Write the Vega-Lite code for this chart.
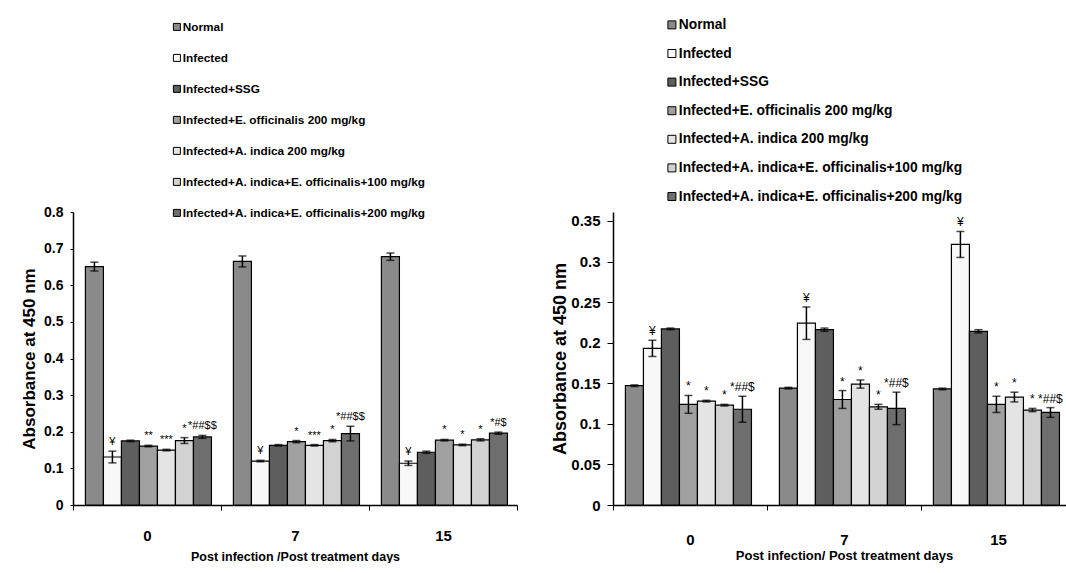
{
  "$schema": "https://vega.github.io/schema/vega-lite/v6.json",
  "padding": {"left": 20, "top": 18, "right": 0, "bottom": 0},
  "background": "white",
  "spacing": 33,
  "resolve": {"scale": {"color": "independent"}, "legend": {"color": "independent"}},
  "config": {
    "font": "Liberation Sans",
    "view": {"stroke": null},
    "axis": {
      "grid": false,
      "labelOverlap": false,
      "domainColor": "black",
      "tickColor": "black",
      "labelColor": "black",
      "titleColor": "black",
      "labelFont": "Liberation Sans",
      "titleFont": "Liberation Sans",
      "labelFontWeight": "bold",
      "titleFontWeight": "bold",
      "domainWidth": 1.5
    },
    "legend": {
      "labelFont": "Liberation Sans",
      "labelFontWeight": "bold",
      "labelColor": "black",
      "symbolType": "square",
      "symbolStrokeColor": "black",
      "symbolStrokeWidth": 1,
      "padding": 0,
      "labelLimit": 400
    }
  },
  "datasets": {
    "left": [
      {"day": "0", "group": "Normal", "value": 0.651, "lo": 0.639, "hi": 0.663, "label": ""},
      {"day": "0", "group": "Infected", "value": 0.131, "lo": 0.115, "hi": 0.147, "label": "¥"},
      {"day": "0", "group": "Infected+SSG", "value": 0.175, "lo": 0.173, "hi": 0.177, "label": ""},
      {"day": "0", "group": "Infected+E. officinalis 200 mg/kg", "value": 0.161, "lo": 0.159, "hi": 0.163, "label": "**"},
      {"day": "0", "group": "Infected+A. indica 200 mg/kg", "value": 0.150, "lo": 0.148, "hi": 0.152, "label": "***"},
      {"day": "0", "group": "Infected+A. indica+E. officinalis+100 mg/kg", "value": 0.176, "lo": 0.168, "hi": 0.184, "label": "*"},
      {"day": "0", "group": "Infected+A. indica+E. officinalis+200 mg/kg", "value": 0.186, "lo": 0.182, "hi": 0.190, "label": "*##$$"},
      {"day": "7", "group": "Normal", "value": 0.665, "lo": 0.650, "hi": 0.680, "label": ""},
      {"day": "7", "group": "Infected", "value": 0.120, "lo": 0.118, "hi": 0.122, "label": "¥"},
      {"day": "7", "group": "Infected+SSG", "value": 0.163, "lo": 0.161, "hi": 0.165, "label": ""},
      {"day": "7", "group": "Infected+E. officinalis 200 mg/kg", "value": 0.173, "lo": 0.170, "hi": 0.176, "label": "*"},
      {"day": "7", "group": "Infected+A. indica 200 mg/kg", "value": 0.163, "lo": 0.161, "hi": 0.165, "label": "***"},
      {"day": "7", "group": "Infected+A. indica+E. officinalis+100 mg/kg", "value": 0.176, "lo": 0.173, "hi": 0.179, "label": "*"},
      {"day": "7", "group": "Infected+A. indica+E. officinalis+200 mg/kg", "value": 0.195, "lo": 0.175, "hi": 0.215, "label": "*##$$"},
      {"day": "15", "group": "Normal", "value": 0.678, "lo": 0.668, "hi": 0.688, "label": ""},
      {"day": "15", "group": "Infected", "value": 0.114, "lo": 0.108, "hi": 0.120, "label": "¥"},
      {"day": "15", "group": "Infected+SSG", "value": 0.144, "lo": 0.141, "hi": 0.147, "label": ""},
      {"day": "15", "group": "Infected+E. officinalis 200 mg/kg", "value": 0.177, "lo": 0.175, "hi": 0.179, "label": "*"},
      {"day": "15", "group": "Infected+A. indica 200 mg/kg", "value": 0.164, "lo": 0.162, "hi": 0.166, "label": "*"},
      {"day": "15", "group": "Infected+A. indica+E. officinalis+100 mg/kg", "value": 0.178, "lo": 0.175, "hi": 0.181, "label": "*"},
      {"day": "15", "group": "Infected+A. indica+E. officinalis+200 mg/kg", "value": 0.196, "lo": 0.193, "hi": 0.199, "label": "*#$"}
    ],
    "right": [
      {"day": "0", "group": "Normal", "value": 0.147, "lo": 0.146, "hi": 0.148, "label": ""},
      {"day": "0", "group": "Infected", "value": 0.193, "lo": 0.183, "hi": 0.203, "label": "¥"},
      {"day": "0", "group": "Infected+SSG", "value": 0.217, "lo": 0.216, "hi": 0.218, "label": ""},
      {"day": "0", "group": "Infected+E. officinalis 200 mg/kg", "value": 0.124, "lo": 0.113, "hi": 0.135, "label": "*"},
      {"day": "0", "group": "Infected+A. indica 200 mg/kg", "value": 0.128, "lo": 0.127, "hi": 0.129, "label": "*"},
      {"day": "0", "group": "Infected+A. indica+E. officinalis+100 mg/kg", "value": 0.123, "lo": 0.122, "hi": 0.124, "label": "*"},
      {"day": "0", "group": "Infected+A. indica+E. officinalis+200 mg/kg", "value": 0.118, "lo": 0.102, "hi": 0.134, "label": "*##$"},
      {"day": "7", "group": "Normal", "value": 0.144, "lo": 0.143, "hi": 0.145, "label": ""},
      {"day": "7", "group": "Infected", "value": 0.224, "lo": 0.204, "hi": 0.244, "label": "¥"},
      {"day": "7", "group": "Infected+SSG", "value": 0.216, "lo": 0.214, "hi": 0.218, "label": ""},
      {"day": "7", "group": "Infected+E. officinalis 200 mg/kg", "value": 0.130, "lo": 0.119, "hi": 0.141, "label": "*"},
      {"day": "7", "group": "Infected+A. indica 200 mg/kg", "value": 0.149, "lo": 0.144, "hi": 0.154, "label": "*"},
      {"day": "7", "group": "Infected+A. indica+E. officinalis+100 mg/kg", "value": 0.121, "lo": 0.118, "hi": 0.124, "label": "*"},
      {"day": "7", "group": "Infected+A. indica+E. officinalis+200 mg/kg", "value": 0.119, "lo": 0.099, "hi": 0.139, "label": "*##$"},
      {"day": "15", "group": "Normal", "value": 0.143, "lo": 0.142, "hi": 0.144, "label": ""},
      {"day": "15", "group": "Infected", "value": 0.321, "lo": 0.305, "hi": 0.337, "label": "¥"},
      {"day": "15", "group": "Infected+SSG", "value": 0.214, "lo": 0.212, "hi": 0.216, "label": ""},
      {"day": "15", "group": "Infected+E. officinalis 200 mg/kg", "value": 0.124, "lo": 0.114, "hi": 0.134, "label": "*"},
      {"day": "15", "group": "Infected+A. indica 200 mg/kg", "value": 0.133, "lo": 0.127, "hi": 0.139, "label": "*"},
      {"day": "15", "group": "Infected+A. indica+E. officinalis+100 mg/kg", "value": 0.117, "lo": 0.115, "hi": 0.119, "label": "*"},
      {"day": "15", "group": "Infected+A. indica+E. officinalis+200 mg/kg", "value": 0.114, "lo": 0.108, "hi": 0.120, "label": "*##$"}
    ]
  },
  "hconcat": [
    {
      "data": {"name": "left"},
      "width": 444,
      "height": 293,
      "encoding": {
        "x": {
          "field": "day", "type": "nominal", "sort": ["0", "7", "15"],
          "scale": {"paddingInner": 0, "paddingOuter": 0},
          "title": "Post infection /Post treatment days",
          "axis": {"labelAngle": 0, "tickBand": "extent", "tickSize": 5, "labelFontSize": 15, "labelPadding": 18, "titleFontSize": 12.5, "titlePadding": 7}
        },
        "xOffset": {
          "field": "group", "type": "nominal",
          "sort": ["Normal", "Infected", "Infected+SSG", "Infected+E. officinalis 200 mg/kg", "Infected+A. indica 200 mg/kg", "Infected+A. indica+E. officinalis+100 mg/kg", "Infected+A. indica+E. officinalis+200 mg/kg"],
          "scale": {"paddingInner": 0, "paddingOuter": 0.61, "align": 0.565}
        }
      },
      "layer": [
        {
          "mark": {"type": "bar", "stroke": "black", "strokeWidth": 1.2},
          "encoding": {
            "y": {
              "field": "value", "type": "quantitative",
              "scale": {"domain": [0, 0.8], "nice": false},
              "title": "Absorbance at 450 nm",
              "axis": {"values": [0, 0.1, 0.2, 0.3, 0.4, 0.5, 0.6, 0.7, 0.8], "tickCount": 12, "labelOverlap": false, "format": "~g", "tickSize": 3, "labelPadding": 7, "labelFontSize": 14, "titleFontSize": 17, "titlePadding": 5}
            },
            "color": {
              "field": "group", "type": "nominal",
              "scale": {
                "domain": ["Normal", "Infected", "Infected+SSG", "Infected+E. officinalis 200 mg/kg", "Infected+A. indica 200 mg/kg", "Infected+A. indica+E. officinalis+100 mg/kg", "Infected+A. indica+E. officinalis+200 mg/kg"],
                "range": ["#8a8a8a", "#f8f8f8", "#5e5e5e", "#a0a0a0", "#e4e4e4", "#d2d2d2", "#6e6e6e"]
              },
              "legend": {"title": null, "orient": "none", "legendX": 98, "legendY": -191, "labelFontSize": 11.8, "rowPadding": 18, "symbolSize": 49, "labelOffset": 0}
            }
          }
        },
        {"mark": {"type": "rule", "strokeWidth": 1.5, "color": "black"}, "encoding": {"y": {"field": "lo", "type": "quantitative"}, "y2": {"field": "hi"}}},
        {"mark": {"type": "tick", "size": 8, "thickness": 1.5, "color": "black", "orient": "horizontal"}, "encoding": {"y": {"field": "hi", "type": "quantitative"}}},
        {"mark": {"type": "tick", "size": 8, "thickness": 1.5, "color": "black", "orient": "horizontal"}, "encoding": {"y": {"field": "lo", "type": "quantitative"}}},
        {"mark": {"type": "text", "dy": -9, "fontSize": 11, "color": "black", "font": "Liberation Sans"}, "encoding": {"y": {"field": "hi", "type": "quantitative"}, "text": {"field": "label"}}}
      ]
    },
    {
      "data": {"name": "right"},
      "width": 462,
      "height": 293,
      "encoding": {
        "x": {
          "field": "day", "type": "nominal", "sort": ["0", "7", "15"],
          "scale": {"paddingInner": 0, "paddingOuter": 0},
          "title": "Post infection/ Post treatment  days",
          "axis": {"labelAngle": 0, "tickBand": "extent", "tickSize": 5, "labelFontSize": 15, "labelPadding": 22, "titleFontSize": 13, "titlePadding": 2}
        },
        "xOffset": {
          "field": "group", "type": "nominal",
          "sort": ["Normal", "Infected", "Infected+SSG", "Infected+E. officinalis 200 mg/kg", "Infected+A. indica 200 mg/kg", "Infected+A. indica+E. officinalis+100 mg/kg", "Infected+A. indica+E. officinalis+200 mg/kg"],
          "scale": {"paddingInner": 0, "paddingOuter": 1.195, "align": 0.31}
        }
      },
      "layer": [
        {
          "mark": {"type": "bar", "stroke": "black", "strokeWidth": 1.2},
          "encoding": {
            "y": {
              "field": "value", "type": "quantitative",
              "scale": {"domain": [0, 0.361], "nice": false},
              "title": "Absorbance at 450 nm",
              "axis": {"values": [0, 0.05, 0.1, 0.15, 0.2, 0.25, 0.3, 0.35], "tickCount": 12, "labelOverlap": false, "format": "~g", "tickSize": 6, "labelPadding": 7, "labelFontSize": 15, "titleFontSize": 18, "titlePadding": 1}
            },
            "color": {
              "field": "group", "type": "nominal",
              "scale": {
                "domain": ["Normal", "Infected", "Infected+SSG", "Infected+E. officinalis 200 mg/kg", "Infected+A. indica 200 mg/kg", "Infected+A. indica+E. officinalis+100 mg/kg", "Infected+A. indica+E. officinalis+200 mg/kg"],
                "range": ["#8a8a8a", "#f8f8f8", "#5e5e5e", "#a0a0a0", "#e4e4e4", "#d2d2d2", "#6e6e6e"]
              },
              "legend": {"title": null, "orient": "none", "legendX": 52, "legendY": -194, "labelFontSize": 13.8, "rowPadding": 13.6, "symbolSize": 64, "labelOffset": 0}
            }
          }
        },
        {"mark": {"type": "rule", "strokeWidth": 1.5, "color": "black"}, "encoding": {"y": {"field": "lo", "type": "quantitative"}, "y2": {"field": "hi"}}},
        {"mark": {"type": "tick", "size": 8, "thickness": 1.5, "color": "black", "orient": "horizontal"}, "encoding": {"y": {"field": "hi", "type": "quantitative"}}},
        {"mark": {"type": "tick", "size": 8, "thickness": 1.5, "color": "black", "orient": "horizontal"}, "encoding": {"y": {"field": "lo", "type": "quantitative"}}},
        {"mark": {"type": "text", "dy": -9, "fontSize": 12, "color": "black", "font": "Liberation Sans"}, "encoding": {"y": {"field": "hi", "type": "quantitative"}, "text": {"field": "label"}}}
      ]
    }
  ]
}
